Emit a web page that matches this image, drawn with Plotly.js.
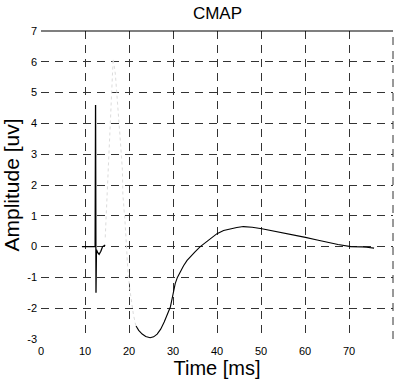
<!DOCTYPE html>
<html><head><meta charset="utf-8">
<script src="https://cdn.plot.ly/plotly-3.0.1.min.js"></script>
<style>html,body{margin:0;padding:0;background:#fff}#c{width:399px;height:382px}</style>
</head><body><div id="c"></div>
<script>
// Stimulus artifact segment
const artTime = [9.3, 12.3, 12.4, 12.5, 12.6, 12.9, 13.2, 13.6, 14.0, 14.6];
const artAmp  = [0, 0, 4.6, -1.5, -0.1, -0.2, -0.25, -0.15, 0, 0.05];
// Faint (poorly reproduced) fast segment
const faintTime = [14.6, 15.5, 16.4, 16.9, 17.3, 18.0, 18.5, 18.6, 19.1, 19.8, 20.2, 21.0, 21.6];
const faintAmp  = [0.3, 3.0, 6.1, 5.6, 4.7, 3.5, 2.5, 1.7, 0.8, -0.9, -1.4, -2.2, -2.6];
// Main CMAP waveform
const cmapTime = [21.6, 22.2, 23, 23.8, 24.8, 25.6, 26.4, 27.2, 28, 28.7, 29.4, 30, 30.5, 31, 31.7, 32.4, 33.2, 33.9, 35, 36.2, 37.5, 39, 40, 41.5, 43, 44.5, 46, 46.8, 48, 50.2, 52.5, 55, 57.5, 60.1, 62.5, 65, 67.5, 70.4, 72, 73, 74, 75.7];
const cmapAmp  = [-2.58, -2.72, -2.84, -2.92, -2.96, -2.93, -2.84, -2.68, -2.45, -2.2, -1.96, -1.55, -1.2, -1.0, -0.8, -0.62, -0.45, -0.33, -0.17, 0, 0.15, 0.32, 0.42, 0.52, 0.58, 0.62, 0.65, 0.65, 0.63, 0.58, 0.52, 0.44, 0.37, 0.3, 0.22, 0.14, 0.07, 0.0, -0.02, -0.01, -0.02, -0.05];
const xTicks = [0, 10, 20, 30, 40, 50, 60, 70, 80];
const yTicks = [-3, -2, -1, 0, 1, 2, 3, 4, 5, 6, 7];

const font = 'Liberation Sans, Arial, sans-serif';
const traces = [
  {x: faintTime, y: faintAmp, mode: 'lines', line: {color: '#dcdcdc', width: 1, dash: 'dot'}, hoverinfo: 'skip'},
  {x: artTime, y: artAmp, mode: 'lines', line: {color: '#000', width: 1.3}},
  {x: cmapTime, y: cmapAmp, mode: 'lines', line: {color: '#000', width: 1.1}}
];
const axisCommon = {
  showgrid: true, gridcolor: '#333', gridwidth: 1, griddash: '8px,6px',
  zeroline: false, showline: false, ticks: '', tickfont: {family: font, size: 11, color: '#000'}
};
const layout = {
  width: 399, height: 382,
  margin: {l: 41, r: 6, t: 31, b: 43},
  paper_bgcolor: '#fff', plot_bgcolor: '#fff',
  showlegend: false,
  title: {text: 'CMAP', font: {family: font, size: 17, color: '#000'}, x: 0.545, xanchor: 'center', y: 0.966, yanchor: 'middle', yref: 'container'},
  xaxis: Object.assign({}, axisCommon, {range: [0, 80], tickvals: xTicks, ticktext: xTicks.map(String), ticklabelstandoff: 4,
    title: {text: 'Time [ms]', font: {family: font, size: 20, color: '#000'}, standoff: 4}}),
  yaxis: Object.assign({}, axisCommon, {range: [-3, 7], tickvals: yTicks, ticktext: yTicks.map(String), ticklabelstandoff: 3,
    title: {text: 'Amplitude [uv]', font: {family: font, size: 21, color: '#000'}, standoff: 4}}),
  shapes: [
    {type: 'line', xref: 'paper', yref: 'paper', x0: 0, x1: 1, y0: 1, y1: 1, line: {color: '#000', width: 1.2}},
    {type: 'line', xref: 'paper', yref: 'paper', x0: 1, x1: 1, y0: 0, y1: 1, line: {color: '#333', width: 1, dash: '8px,6px'}}
  ]
};
Plotly.newPlot('c', traces, layout, {staticPlot: true});
</script></body></html>
